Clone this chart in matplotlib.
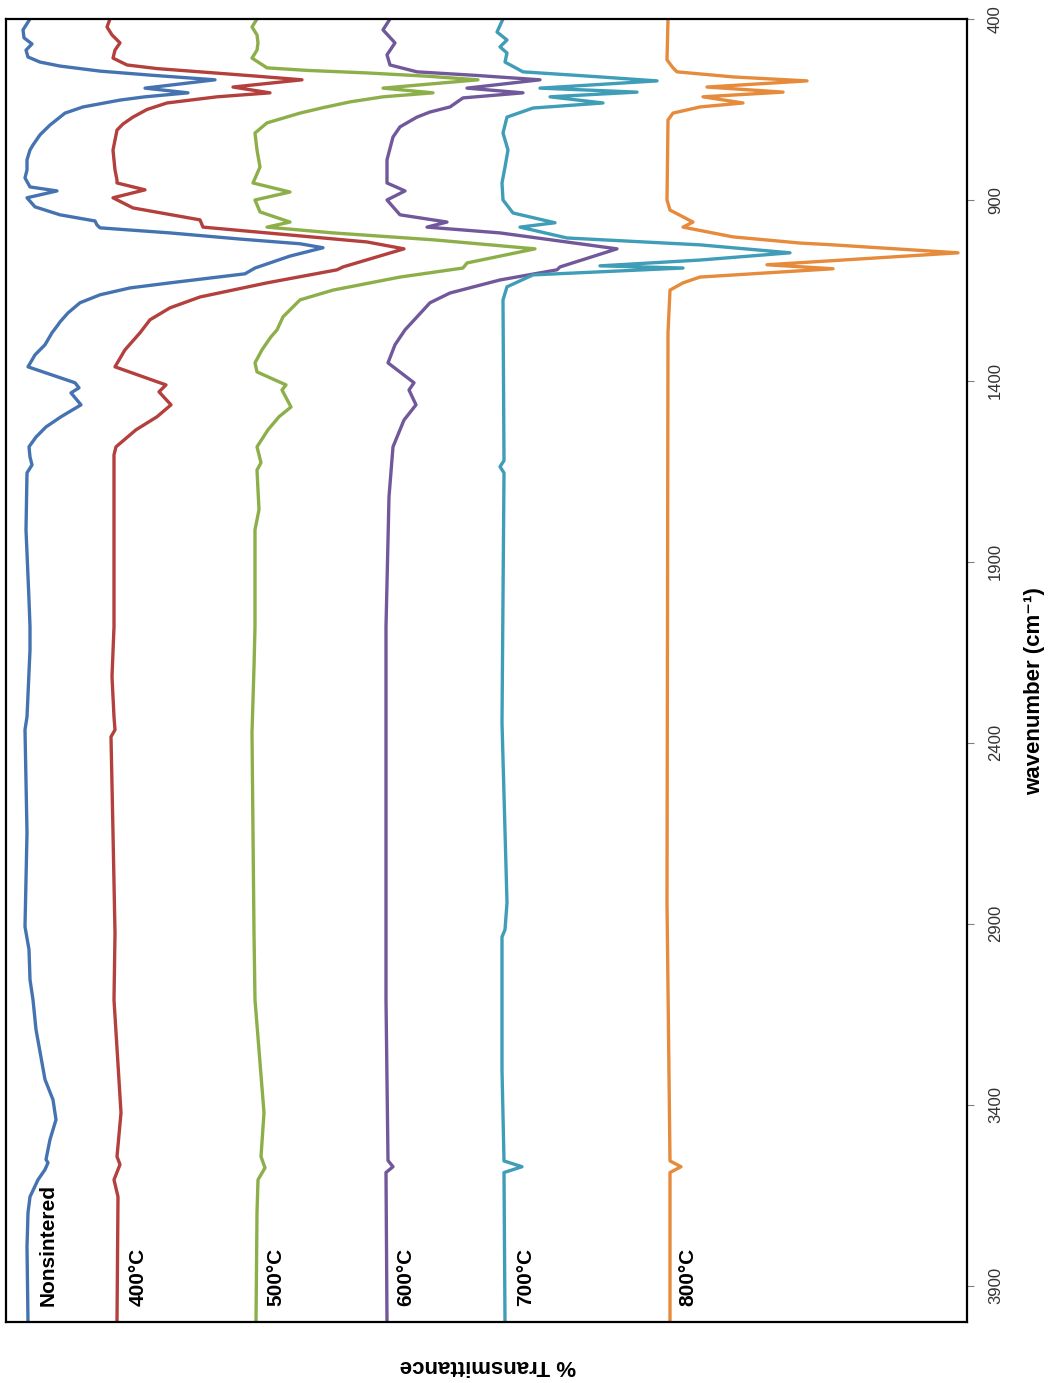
import matplotlib
matplotlib.use('Agg')
import matplotlib.pyplot as plt

plt.rcParams['font.family'] = ['Liberation Sans', 'DejaVu Sans']

# FTIR spectra, wavenumber (cm-1) vs offset % transmittance
wn_raw = [400, 430, 452, 469, 486, 505, 519, 530, 544, 555, 563, 568, 591, 604, 615, 624, 643, 660,
          693, 720, 748, 762, 789, 817, 839, 864, 875, 894, 919, 941, 958, 969, 977, 991, 1008, 1021,
          1032, 1055, 1088, 1104, 1129, 1143, 1162, 1184, 1212, 1237, 1245, 1267, 1300, 1328, 1361,
          1405, 1419, 1433, 1466, 1499, 1527, 1555, 1582, 1610, 1632, 1654, 1811, 2005, 2079, 2143,
          2328, 2364, 2648, 2908, 2971, 3054, 3110, 3192, 3330, 3386, 3441, 3496, 3551, 3560, 3579,
          3607, 3654, 3698, 3792, 4000]
t_raw = [93.7, 94.4, 94.3, 93.5, 94.1, 93.9, 92.7, 90.7, 86.7, 81.7, 77.7, 75.2, 82.2, 77.9, 82.2, 84.7,
         88.4, 90.2, 91.7, 92.7, 93.4, 93.7, 94.0, 94.0, 94.2, 93.7, 91.0, 94.0, 93.2, 90.7, 87.2, 87.0,
         86.7, 79.7, 72.7, 66.7, 64.4, 67.7, 71.2, 72.2, 79.7, 83.7, 86.7, 88.7, 89.9, 90.7, 90.9, 91.5,
         92.2, 93.2, 93.9, 89.2, 88.8, 89.6, 88.6, 90.6, 92.1, 93.1, 93.8, 93.7, 93.5, 94.0, 94.1, 93.8,
         93.7, 93.7, 94.0, 94.2, 94.0, 94.2, 93.8, 93.7, 93.4, 93.1, 92.2, 91.4, 91.1, 91.7, 92.1, 91.9,
         92.2, 92.9, 93.7, 93.9, 94.0, 93.9]

wn_400 = [400, 422, 444, 466, 486, 508, 527, 537, 546, 558, 568, 588, 604, 615, 632, 650, 671, 690,
          707, 762, 817, 845, 853, 872, 894, 922, 955, 975, 991, 1016, 1035, 1085, 1093, 1129, 1168,
          1198, 1231, 1267, 1314, 1361, 1411, 1430, 1466, 1499, 1535, 1582, 1604, 1720, 2079, 2217,
          2328, 2364, 2383, 2648, 2925, 3110, 3422, 3543, 3565, 3607, 3654, 4000]
t_400 = [85.7, 86.0, 85.5, 84.7, 85.2, 85.4, 84.0, 81.0, 76.7, 71.0, 66.5, 73.4, 69.7, 75.0, 80.0, 82.0,
         83.4, 84.4, 85.0, 85.4, 85.2, 85.0, 85.0, 82.2, 85.4, 83.4, 76.7, 76.4, 70.0, 60.0, 56.3, 62.4,
         63.0, 70.0, 76.7, 79.7, 81.7, 82.7, 84.2, 85.2, 80.1, 80.8, 79.6, 81.0, 83.1, 85.1, 85.3, 85.3,
         85.3, 85.5, 85.3, 85.2, 85.6, 85.4, 85.2, 85.3, 84.6, 85.0, 84.7, 85.3, 84.9, 85.0]

wn_500 = [400, 422, 444, 466, 486, 508, 535, 542, 549, 558, 568, 591, 604, 615, 629, 645, 660, 687,
          715, 762, 809, 853, 878, 900, 933, 961, 975, 991, 1010, 1035, 1074, 1088, 1113, 1149, 1176,
          1223, 1259, 1278, 1314, 1350, 1375, 1411, 1425, 1472, 1499, 1535, 1582, 1626, 1646, 1756,
          1811, 2079, 2190, 2372, 2925, 3110, 3422, 3543, 3574, 3607, 3698, 4000]
t_500 = [71.0, 71.5, 71.0, 70.9, 71.0, 71.5, 70.0, 66.0, 60.0, 54.0, 48.9, 58.4, 53.4, 58.4, 61.7, 64.4,
         66.7, 70.0, 71.2, 71.0, 70.7, 71.4, 67.7, 71.2, 70.7, 67.7, 70.0, 63.4, 53.4, 43.2, 50.0, 50.4,
         56.7, 63.4, 66.7, 68.4, 69.0, 69.6, 70.5, 71.2, 71.0, 68.1, 68.5, 67.6, 68.8, 69.9, 71.0, 70.6,
         71.0, 70.8, 71.2, 71.2, 71.3, 71.5, 71.3, 71.2, 70.3, 70.6, 70.2, 70.9, 71.0, 71.1]

wn_600 = [400, 430, 466, 499, 527, 546, 556, 568, 591, 604, 618, 643, 657, 671, 698, 726, 789, 853,
          875, 900, 941, 961, 975, 991, 1035, 1085, 1093, 1121, 1157, 1184, 1223, 1259, 1300, 1350,
          1405, 1425, 1466, 1508, 1582, 1720, 2079, 2281, 3110, 3554, 3571, 3587, 4000]
t_600 = [57.7, 58.4, 57.2, 58.0, 57.7, 55.0, 49.0, 42.7, 50.0, 44.4, 50.4, 51.7, 53.7, 55.0, 56.7, 57.4,
         58.0, 58.0, 56.2, 58.0, 56.7, 52.0, 54.0, 46.7, 35.0, 40.7, 41.0, 46.7, 51.7, 53.7, 55.0, 56.2,
         57.2, 57.9, 55.3, 55.8, 55.1, 56.3, 57.4, 57.8, 58.1, 58.1, 58.1, 57.9, 57.4, 58.1, 58.0]

wn_700 = [400, 436, 458, 477, 494, 519, 546, 560, 571, 591, 602, 615, 632, 646, 671, 715, 762, 809,
          853, 900, 936, 963, 975, 1005, 1024, 1046, 1066, 1082, 1088, 1107, 1140, 1176, 1620, 1637,
          1654, 2344, 2842, 2916, 2936, 3303, 3555, 3571, 3587, 4000]
t_700 = [46.4, 47.0, 46.0, 46.7, 46.0, 46.2, 44.4, 36.7, 31.0, 42.7, 33.0, 41.7, 36.4, 43.4, 46.0, 46.4,
         45.9, 46.2, 46.5, 46.4, 45.4, 41.2, 44.7, 40.0, 26.7, 17.7, 26.7, 36.7, 28.4, 43.4, 46.0, 46.4,
         46.3, 46.7, 46.3, 46.5, 46.0, 46.2, 46.5, 46.5, 46.3, 44.5, 46.3, 46.2]

wn_800 = [400, 513, 535, 546, 560, 571, 588, 602, 615, 632, 643, 660, 679, 900, 928, 961, 975, 1002,
          1019, 1024, 1046, 1079, 1090, 1113, 1129, 1149, 1267, 2842, 3555, 3571, 3587, 4000]
t_800 = [29.9, 30.0, 29.4, 29.0, 23.4, 16.0, 26.0, 18.4, 26.4, 22.4, 26.7, 29.4, 29.9, 30.0, 29.7, 27.4,
         28.4, 23.4, 16.7, 13.4, 0.9, 20.0, 13.4, 26.7, 28.4, 29.7, 29.9, 30.0, 29.7, 28.6, 29.7, 29.7]

series = [
    ('Nonsintered', wn_raw, t_raw, '#4573B1', 91.85),
    ('400°C', wn_400, t_400, '#B3403D', 82.85),
    ('500°C', wn_500, t_500, '#8CAF4A', 69.1),
    ('600°C', wn_600, t_600, '#71589A', 56.1),
    ('700°C', wn_700, t_700, '#3F9DB8', 44.1),
    ('800°C', wn_800, t_800, '#E68A3C', 27.9),
]
ticks = [400, 900, 1400, 1900, 2400, 2900, 3400, 3900]

fig = plt.figure(figsize=(10.5, 13.83), dpi=100)
ax = fig.add_axes([6 / 1050, 1 - 1322 / 1383, 961 / 1050, 1303 / 1383])

for name, wn, t, color, label_x in series:
    ax.plot(t, wn, color=color, lw=2.4, solid_joinstyle='round')
    ax.text(label_x, 3957, name, rotation=90, ha='center', va='bottom',
            fontsize=15, fontweight='bold')

ax.set_xlim(96.1, 0)
ax.set_ylim(4000, 400)
ax.set_xticks([])
ax.yaxis.tick_right()
ax.set_yticks(ticks)
ax.set_yticklabels([str(t) for t in ticks], rotation=90, va='center')
ax.tick_params(axis='y', direction='out', length=5, color='#808080', pad=10,
               labelsize=12, labelcolor='#333333')
for side in ax.spines.values():
    side.set_linewidth(1.6)
    side.set_color('black')

fig.text(1035 / 1050, 1 - 691 / 1383, 'wavenumber (cm⁻¹)', rotation=90,
         ha='center', va='center', fontsize=16, fontweight='bold')
fig.text(488 / 1050, 1 - 1366 / 1383, '% Transmittance', rotation=180,
         ha='center', va='center', fontsize=16, fontweight='bold')

plt.savefig('out.png', dpi=100)
